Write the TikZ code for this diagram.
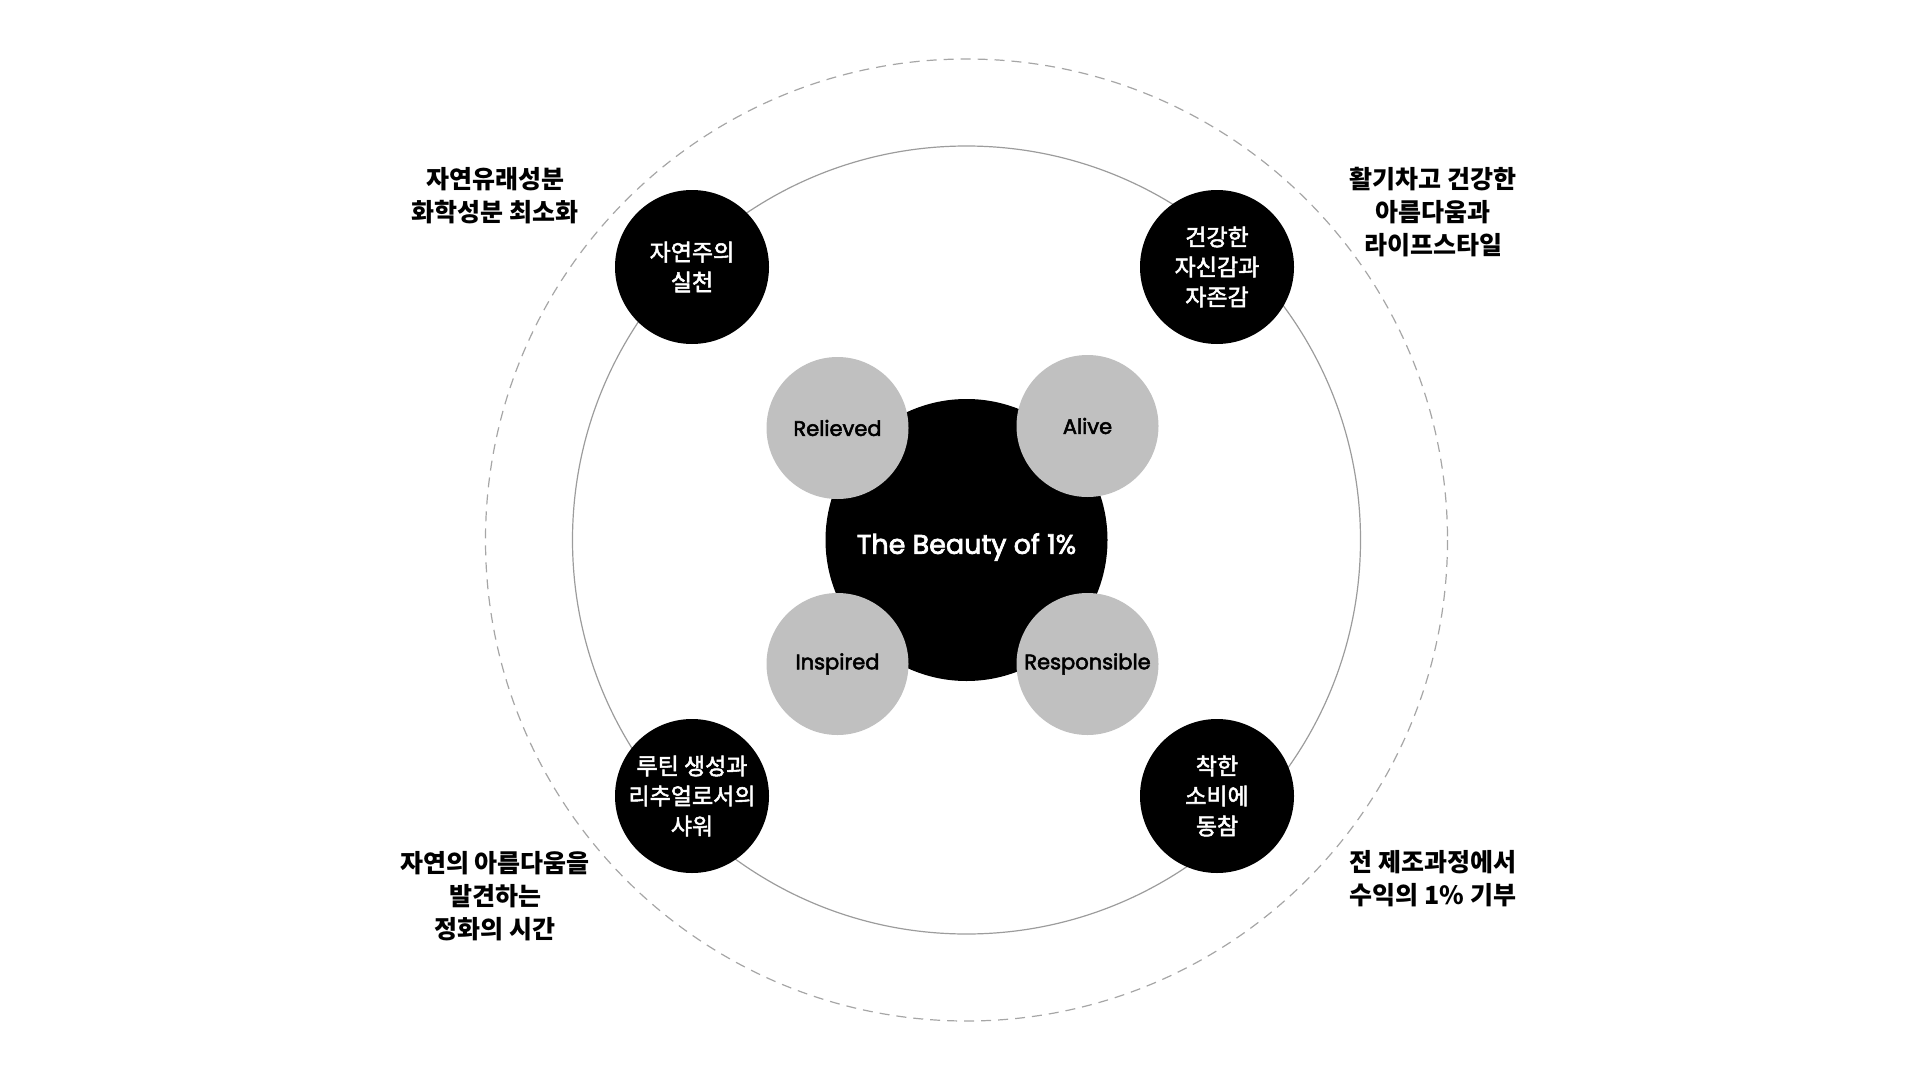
\documentclass[tikz,border=0pt]{standalone}
\usepackage{fontspec}
\setmainfont{Poppins}[FakeBold=2.6]
\newfontfamily\kofont{Noto Sans CJK KR}
\newfontfamily\komedium{Noto Sans CJK KR}[FakeBold=2.2]
\usepackage{tikz}
\usetikzlibrary{positioning}
\definecolor{petalgrey}{HTML}{C0C0C0}
\definecolor{ringgrey}{HTML}{9C9C9C}
\definecolor{dashgrey}{HTML}{A6A6A6}

\begin{document}
\begin{tikzpicture}[
    x=1pt, y=-1pt,
    hub/.style={circle, fill=black, minimum size=282pt, inner sep=0pt},
    hubtext/.style={text=white, inner sep=0pt, font=\fontsize{27}{32}\selectfont},
    petal/.style={circle, fill=petalgrey, minimum size=142pt, inner sep=0pt, font=\fontsize{21}{26}\selectfont},
    value/.style={circle, fill=black, minimum size=154pt, inner sep=0pt, text=white, align=center, font=\komedium\fontsize{23}{30}\selectfont},
    claim/.style={align=center, font=\kofont\bfseries\fontsize{25}{33}\selectfont}
]
\useasboundingbox (0,0) rectangle (1920,1081);

% Rings
\coordinate (mid) at (966.5,540);
\draw[dashgrey, line width=1.2pt, dash pattern=on 10pt off 7pt] (mid) circle[radius=481];
\draw[ringgrey, line width=1.2pt] (mid) circle[radius=394];

% Values on the ring
\node[value] (nature) at (692,267) {자연주의\\실천};
\node[value] (health) at (1217,267) {건강한\\자신감과\\자존감};
\node[value] (ritual) at (692,796) {루틴 생성과\\리추얼로서의\\샤워};
\node[value] (giving) at (1217,796) {착한\\소비에\\동참};

% Hub and feelings
\node[hub] (beauty) at (mid) {};
\node[hubtext] (beautytext) at ([yshift=-7pt]beauty.center) {The Beauty of 1\%};
\node[petal] (relieved) at (837.5,428) {Relieved};
\node[petal] (alive) at (1087.5,426) {Alive};
\node[petal] (inspired) at (837.5,664) {Inspired};
\node[petal] (responsible) at (1087.5,664) {Responsible};

% Claims
\node[claim] (natureclaim) at (495,196) {자연유래성분\\화학성분 최소화};
\node[claim] (healthclaim) at (1433,212) {활기차고 건강한\\아름다움과\\라이프스타일};
\node[claim] (ritualclaim) at (495,896) {자연의 아름다움을\\발견하는\\정화의 시간};
\node[claim] (givingclaim) at (1433,879) {전 제조과정에서\\수익의 1\% 기부};
\end{tikzpicture}
\end{document}
